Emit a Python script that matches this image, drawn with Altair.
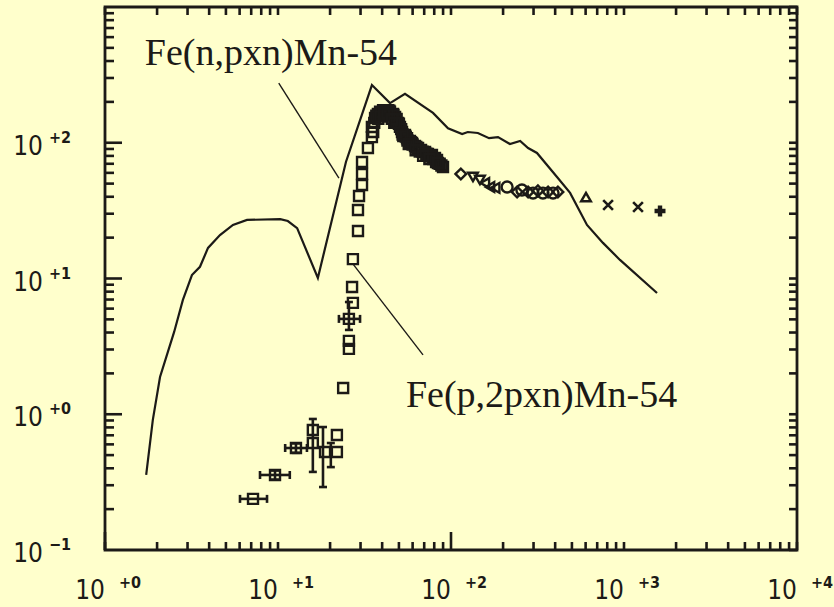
import altair as alt
import pandas as pd

# ---------------- data ----------------
# calculated excitation function (solid line)
model_x = [1.73, 1.89, 2.08, 2.51, 2.82, 3.18, 3.54, 3.94, 4.62, 5.49, 6.62, 10.3, 11.4, 12.9,
           17.0, 24.7, 34.9, 44.4, 54.2, 78.7, 96.1, 116, 125, 143, 166, 187, 219, 251, 279,
           314, 410, 488, 611, 756, 948, 1552]
model_y = [0.357, 0.908, 1.88, 4.04, 6.95, 10.6, 12.2, 16.8, 20.9, 24.8, 27.0, 27.4, 26.5, 23.5,
           10.1, 72.2, 266, 196, 229, 166, 128, 116, 120, 118, 108, 110, 98, 103, 91.5,
           84.1, 56.0, 42.7, 24.8, 18.3, 13.7, 7.82]

# experimental data, open squares
sq_x = [7.17, 9.61, 12.7, 15.9, 15.9, 18.7, 21.9, 21.9, 23.8, 25.7, 25.7, 25.7, 27.1, 26.8,
        27.1, 29.0, 29.0, 29.4, 30.6, 30.6, 30.6, 33.1, 34.9, 34.9, 36.4, 37.8, 38.9, 40.5,
        41.5, 43.3, 44.4, 46.2, 47.5, 49.4, 50.7, 52.1, 54.2, 55.7, 57.9, 59.5, 61.9, 64.5,
        67.1, 70.8, 73.6, 77.6, 80.8, 83.0, 89.9,
        35.5, 36.0, 38.0, 40.0, 45.0, 48.0, 50.0, 53.0, 56.0, 60.0, 66.0, 74.0, 79.0, 86.0, 88.0,
        37.0, 39.5, 42.0, 44.0, 46.5, 48.5, 51.5, 54.8, 58.5, 63.0, 68.5, 72.0, 76.0, 82.0,
        39.0, 41.0, 43.0, 45.5, 47.0, 52.5, 57.0, 62.5, 69.0, 75.0, 84.0]
sq_y = [0.238, 0.357, 0.564, 0.766, 0.614, 0.527, 0.703, 0.527, 1.56, 3.03, 3.47, 5.04, 6.61, 8.65,
        13.9, 22.4, 32.0, 40.5, 48.9, 58.9, 72.1, 91.4, 110, 131, 152, 163, 169, 174,
        174, 174, 169, 163, 155, 140, 131, 120, 114, 108, 103, 99.6, 94.6, 91.4,
        88.4, 85.5, 82.7, 81.3, 77.3, 74.7, 66.2,
        120, 140, 150, 160, 160, 145, 138, 112, 104, 97, 86, 80, 76, 70, 68,
        158, 168, 172, 172, 160, 150, 126, 111, 101, 93, 86, 83, 79, 72,
        156, 162, 165, 150, 140, 115, 98, 88, 80, 76, 71]

dia_x = [114, 241, 279, 318, 364, 415]
dia_y = [58.9, 43.4, 43.4, 44.2, 43.4, 43.4]
tdown_x = [134, 147]
tdown_y = [56.0, 53.2]
tleft_x = [157, 168, 180]
tleft_y = [50.5, 47.2, 46.5]
circ_x = [211, 257, 298, 340, 389]
circ_y = [47.2, 44.9, 42.6, 42.6, 42.6]
tup_x = [603]
tup_y = [39.8]
xmark_x = [809, 1205]
xmark_y = [34.8, 33.6]
plus_x = [1615]
plus_y = [31.4]

# horizontal (energy) error bars
xe_lo = [6.03, 7.87, 11.0, 22.5]
xe_hi = [8.64, 11.7, 14.7, 29.8]
xe_y = [0.238, 0.357, 0.564, 5.04]
# vertical (cross-section) error bars
ye_x = [9.61, 12.7, 15.9, 18.2, 20.2, 25.7]
ye_lo = [0.33, 0.52, 0.376, 0.291, 0.408, 4.18]
ye_hi = [0.385, 0.61, 0.923, 0.805, 0.614, 6.71]

# annotations
ann_text = ["Fe(n,pxn)Mn-54", "Fe(p,2pxn)Mn-54"]
ann_x = [1.70, 54.9]
ann_y = [374, 1.13]
lead_x = [10.1, 27.1]
lead_y = [275, 12.8]
lead_x2 = [22.5, 68.9]
lead_y2 = [54.9, 2.74]

# axis decorations
x_decades = [1, 10, 100, 1000, 10000]
x_sups = ["+0", "+1", "+2", "+3", "+4"]
y_decades = [0.1, 1, 10, 100]
y_sups = ["\u22121", "+0", "+1", "+2"]
x_minor = [m * 10 ** k for k in range(0, 4) for m in range(2, 10)]
y_minor = [m * 10.0 ** k for k in range(-1, 3) for m in range(2, 10)]

# ---------------- chart ----------------
W, H = 692, 543
INK = "#1c1a17"
BG = "#FFFFCC"
xs = alt.Scale(type="log", domain=[1, 10000])
ys = alt.Scale(type="log", domain=[0.1, 1000])


def X(f="x"):
    return alt.X(f"{f}:Q", scale=xs, axis=None)


def Y(f="y"):
    return alt.Y(f"{f}:Q", scale=ys, axis=None)


def pts(xv, yv, shape, filled=False, size=100, sw=2.0):
    df = pd.DataFrame({"x": xv, "y": yv})
    return alt.Chart(df).mark_point(shape=shape, filled=filled, size=size, strokeWidth=sw,
                                    color=INK, opacity=1).encode(x=X(), y=Y())


layers = []


def vticks(vals, y0, y1):
    return alt.Chart(pd.DataFrame({"v": vals})).mark_rule(color=INK, strokeWidth=2.6).encode(
        x=X("v"), y=alt.value(y0), y2=alt.value(y1))


def hticks(vals, x0, x1):
    return alt.Chart(pd.DataFrame({"v": vals})).mark_rule(color=INK, strokeWidth=2.6).encode(
        y=Y("v"), x=alt.value(x0), x2=alt.value(x1))


layers.append(vticks(x_minor + [1, 10, 1000, 10000], H, H - 8))
layers.append(vticks([1, 100], H, H - 18))
layers.append(vticks(x_minor + x_decades, 0, 8))
layers.append(hticks(y_minor, 0, 9))
layers.append(hticks([1, 10, 100], 0, 17))
layers.append(hticks(y_minor + y_decades + [1000], W - 8, W))

# axis labels
LF = "DejaVu Sans Condensed"
xl = pd.DataFrame({"v": x_decades, "s": x_sups})
layers.append(alt.Chart(xl).mark_text(font=LF, fontSize=26, align="right",
                                      baseline="alphabetic", color=INK, dx=0).encode(
    x=X("v"), y=alt.value(H + 49), text=alt.value("10")))
layers.append(alt.Chart(xl).mark_text(font=LF, fontSize=16, fontWeight="bold",
                                      align="left", baseline="alphabetic", color=INK, dx=14).encode(
    x=X("v"), y=alt.value(H + 38), text="s:N"))
yl = pd.DataFrame({"v": y_decades, "s": y_sups})
layers.append(alt.Chart(yl).mark_text(font=LF, fontSize=26, align="right",
                                      baseline="alphabetic", color=INK, dy=12).encode(
    y=Y("v"), x=alt.value(-62), text=alt.value("10")))
layers.append(alt.Chart(yl).mark_text(font=LF, fontSize=16, fontWeight="bold",
                                      align="left", baseline="alphabetic", color=INK, dy=0).encode(
    y=Y("v"), x=alt.value(-56), text="s:N"))

# model curve
dm = pd.DataFrame({"x": model_x, "y": model_y, "i": list(range(len(model_x)))})
layers.append(alt.Chart(dm).mark_line(color=INK, strokeWidth=2.2).encode(
    x=X(), y=Y(), order=alt.Order("i:Q")))

# error bars
dxe = pd.DataFrame({"lo": xe_lo, "hi": xe_hi, "y": xe_y})
layers.append(alt.Chart(dxe).mark_rule(color=INK, strokeWidth=2.6).encode(
    x=X("lo"), x2="hi:Q", y=Y()))
dye = pd.DataFrame({"x": ye_x, "lo": ye_lo, "hi": ye_hi})
layers.append(alt.Chart(dye).mark_rule(color=INK, strokeWidth=2.6).encode(
    x=X(), y=Y("lo"), y2="hi:Q"))
layers.append(pts(xe_lo + xe_hi, xe_y + xe_y, "M0,-1L0,1", size=64, sw=2.6))
layers.append(pts(ye_x + ye_x, ye_lo + ye_hi, "M-1,0L1,0", size=64, sw=2.6))

# experimental points
layers.append(pts(sq_x, sq_y, "square", size=100, sw=2.4))
layers.append(pts(dia_x, dia_y, "diamond", size=115, sw=2.4))
layers.append(pts(tdown_x, tdown_y, "triangle-down", size=95, sw=2.4))
layers.append(pts(tleft_x, tleft_y, "triangle-left", size=95, sw=2.4))
layers.append(pts(circ_x, circ_y, "circle", size=120, sw=2.4))
layers.append(pts(tup_x, tup_y, "triangle-up", size=95, sw=2.4))
layers.append(pts(xmark_x, xmark_y, "M-1,-1L1,1M1,-1L-1,1", size=95, sw=2.6))
layers.append(pts(plus_x, plus_y, "cross", filled=True, size=120))

# annotations
dl = pd.DataFrame({"x": lead_x, "y": lead_y, "x2": lead_x2, "y2": lead_y2})
layers.append(alt.Chart(dl).mark_rule(color=INK, strokeWidth=1.4).encode(
    x=X(), y=Y(), x2="x2:Q", y2="y2:Q"))
da = pd.DataFrame({"x": ann_x, "y": ann_y, "t": ann_text})
layers.append(alt.Chart(da).mark_text(font="Liberation Serif", fontSize=38, align="left",
                                      baseline="alphabetic", color=INK).encode(
    x=X(), y=Y(), text="t:N"))

chart = alt.layer(*layers).properties(
    width=W, height=H, background=BG,
    padding={"left": 105, "top": 7, "right": 37, "bottom": 57},
    autosize=alt.AutoSizeParams(type="none"),
).configure_view(stroke=INK, strokeWidth=2.8, fill=BG)

chart.save("out.html", embed_options={"renderer": "svg", "actions": False})
